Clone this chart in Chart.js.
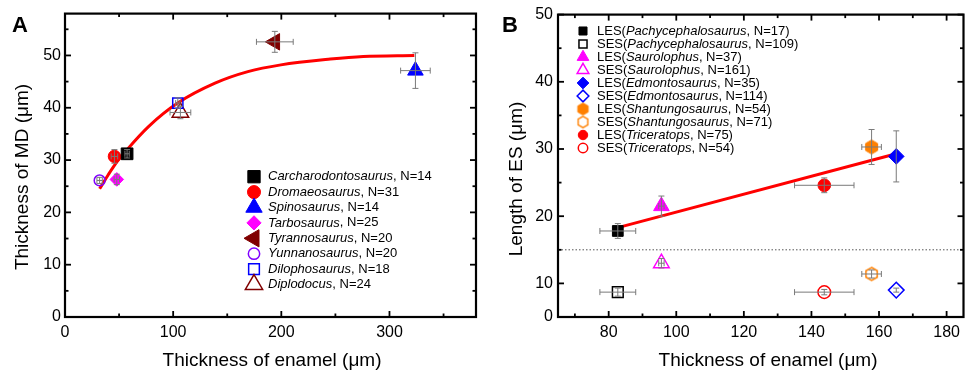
<!DOCTYPE html>
<html><head><meta charset="utf-8">
<script src="https://cdn.jsdelivr.net/npm/chart.js@4.4.1/dist/chart.umd.min.js"></script>
<style>
html,body{margin:0;padding:0;background:#fff;width:974px;height:372px;overflow:hidden}
#wa{position:absolute;left:0;top:0;width:487px;height:372px}
#wb{position:absolute;left:487px;top:0;width:487px;height:372px}
canvas{display:block}
</style></head><body>
<div id="wa"><canvas id="ca" width="487" height="372"></canvas></div>
<div id="wb"><canvas id="cb" width="487" height="372"></canvas></div>
<script>
// ================= Panel A data =================
const genusA     = ['Carcharodontosaurus','Dromaeosaurus','Spinosaurus','Tarbosaurus','Tyrannosaurus','Yunnanosaurus','Dilophosaurus','Diplodocus'];
const nA         = [14, 31, 14, 25, 20, 20, 18, 24];
const enamelA    = [57.4, 45.7, 324.0, 47.9, 194.0, 32.0, 104.3, 106.7];
const enamelErrA = [2.0, 3.0, 13.7, 2.5, 17.0, 2.5, 2.0, 9.6];
const mdA        = [31.2, 30.7, 47.1, 26.3, 52.6, 26.1, 40.9, 39.1];
const mdErrA     = [0.8, 1.3, 3.4, 1.0, 2.0, 0.6, 1.0, 1.2];
const fitEnamelA = [32, 40, 45.7, 57.4, 77.7, 104.2, 138.7, 169.1, 199.6, 245.3, 275.8, 323];
const fitMdA     = [24.5, 27.2, 29.0, 32.0, 36.5, 40.9, 44.7, 46.9, 48.2, 49.3, 49.8, 50.0];
const xTicksA = [0, 100, 200, 300];
const xMinorA = [50, 150, 250, 350];
const yTicksA = [0, 10, 20, 30, 40, 50];
const yMinorA = [5, 15, 25, 35, 45, 55];

// ================= Panel B data =================
const typeB      = ['LES','SES','LES','SES','LES','SES','LES','SES','LES','SES'];
const genusB     = ['Pachycephalosaurus','Pachycephalosaurus','Saurolophus','Saurolophus','Edmontosaurus','Edmontosaurus','Shantungosaurus','Shantungosaurus','Triceratops','Triceratops'];
const nB         = [17, 109, 37, 161, 35, 114, 54, 71, 75, 54];
const enamelB    = [82.7, 82.7, 95.6, 95.6, 165.1, 165.1, 157.8, 157.8, 143.8, 143.8];
const enamelErrB = [5.3, 5.3, 0.8, 0.8, 0, 0, 2.9, 2.9, 8.8, 8.8];
const esB        = [17.8, 8.7, 21.5, 13.0, 28.9, 9.0, 30.3, 11.4, 24.6, 8.7];
const esErrB     = [1.1, 0.6, 1.5, 0.7, 3.8, 0.3, 2.6, 0.6, 1.1, 0.4];
const fitEnamelB = [82.7, 165.1];
const fitEsB     = [18.3, 29.3];
const thresholdB = 15;
const xTicksB = [80, 100, 120, 140, 160, 180];
const xMinorB = [70, 90, 110, 130, 150, 170];
const yTicksB = [5, 10, 20, 30, 40, 50];
const yTickLabelsB = ['0', '10', '20', '30', '40', '50'];
const yMinorB = [15, 25, 35, 45];

// ================= styles =================
const FONT = '"Liberation Sans", Arial, Helvetica, sans-serif';

function hexCanvas(fill, stroke, size, r, lw) {
  const c = document.createElement('canvas');
  c.width = size; c.height = size;
  const g = c.getContext('2d');
  g.beginPath();
  for (let k = 0; k < 6; k++) {
    const a = -Math.PI / 2 + k * Math.PI / 3;
    const px = size / 2 + r * Math.cos(a), py = size / 2 + r * Math.sin(a);
    if (k) g.lineTo(px, py); else g.moveTo(px, py);
  }
  g.closePath();
  if (fill) { g.fillStyle = fill; g.fill(); }
  g.lineWidth = lw; g.strokeStyle = stroke; g.stroke();
  return c;
}

const stylesA = [
  {ps:'rect',     r:8.3, color:'#000000', fill:true},
  {ps:'circle',   r:6.2, color:'#ff0000', fill:true},
  {ps:'triangle', r:9,   color:'#0000ff', fill:true},
  {ps:'rectRot',  r:6.8, color:'#ff00ff', fill:true},
  {ps:'triangle', r:9.5, color:'#800000', fill:true, rot:-90},
  {ps:'circle',   r:5.4, color:'#8000ff', fill:false},
  {ps:'rect',     r:7.2, color:'#0000ff', fill:false},
  {ps:'triangle', r:9.5, color:'#800000', fill:false}
];
const hexFill = hexCanvas('#ff8000', '#ff8000', 17, 7, 1);
const hexOpen = hexCanvas(null, '#ff8000', 17, 6.5, 1.5);
const hexFillL = hexCanvas('#ff8000', '#ff8000', 15, 6, 1);
const hexOpenL = hexCanvas(null, '#ff8000', 15, 5.6, 1.4);
const stylesB = [
  {ps:'rect',     r:7.6, color:'#000000', fill:true},
  {ps:'rect',     r:7.6, color:'#000000', fill:false},
  {ps:'triangle', r:9,   color:'#ff00ff', fill:true},
  {ps:'triangle', r:9,   color:'#ff00ff', fill:false},
  {ps:'rectRot',  r:7.8, color:'#0000ff', fill:true},
  {ps:'rectRot',  r:7.8, color:'#0000ff', fill:false},
  {ps:hexFill,    r:7,   color:'#ff8000', fill:true,  legendImg:hexFillL},
  {ps:hexOpen,    r:7,   color:'#ff8000', fill:false, legendImg:hexOpenL},
  {ps:'circle',   r:6.3, color:'#ff0000', fill:true},
  {ps:'circle',   r:6.3, color:'#ff0000', fill:false}
];

function makeDatasets(xs, ys, exs, eys, styles, labels) {
  return xs.map((x, i) => ({
    label: labels[i],
    data: [{x: x, y: ys[i]}],
    errX: [exs[i]], errY: [eys[i]],
    showLine: false,
    pointStyle: styles[i].ps,
    pointRotation: styles[i].rot || 0,
    pointRadius: styles[i].r,
    pointHoverRadius: styles[i].r,
    pointBackgroundColor: styles[i].fill ? styles[i].color : 'rgba(0,0,0,0)',
    pointBorderColor: styles[i].color,
    pointBorderWidth: styles[i].fill ? 1 : 1.5
  }));
}

// ================= plugins =================
function markerPath(ctx, st, x, y, r) {
  const rot = (st.rot || 0) * Math.PI / 180;
  ctx.beginPath();
  if (st.ps === 'circle') ctx.arc(x, y, r, 0, Math.PI * 2);
  else if (st.ps === 'rect') { const s = r * Math.SQRT1_2; ctx.rect(x - s, y - s, 2 * s, 2 * s); }
  else if (st.ps === 'rectRot') { ctx.moveTo(x - r, y); ctx.lineTo(x, y - r); ctx.lineTo(x + r, y); ctx.lineTo(x, y + r); ctx.closePath(); }
  else if (st.ps === 'triangle') {
    let a = rot;
    ctx.moveTo(x + Math.sin(a) * r, y - Math.cos(a) * r);
    a += 2 * Math.PI / 3; ctx.lineTo(x + Math.sin(a) * r, y - Math.cos(a) * r);
    a += 2 * Math.PI / 3; ctx.lineTo(x + Math.sin(a) * r, y - Math.cos(a) * r);
    ctx.closePath();
  }
}

function legendPlugin(cfg) {
  return {
    id: 'richLegend',
    afterDraw(chart) {
      const ctx = chart.ctx;
      ctx.save();
      cfg.items.forEach((it, i) => {
        const y = cfg.y + i * cfg.dy;
        const st = it.style;
        if (st.legendImg) {
          ctx.drawImage(st.legendImg, cfg.symX - st.legendImg.width / 2, y - st.legendImg.height / 2);
        } else {
          markerPath(ctx, st, cfg.symX, y, st.r * cfg.symScale);
          if (st.fill) { ctx.fillStyle = st.color; ctx.fill(); }
          ctx.lineWidth = st.fill ? 1 : 1.5; ctx.strokeStyle = st.color; ctx.stroke();
        }
        let x = cfg.textX;
        ctx.fillStyle = '#000';
        ctx.textBaseline = 'middle';
        ctx.textAlign = 'left';
        it.parts.forEach(p => {
          ctx.font = (p[1] ? 'italic ' : '') + cfg.fontSize + 'px ' + FONT;
          ctx.fillText(p[0], x, y);
          x += ctx.measureText(p[0]).width;
        });
      });
      ctx.restore();
    }
  };
}

function errorBarPlugin(color, cap) {
  return {
    id: 'errorBars',
    afterDatasetsDraw(chart) {
      const {ctx, scales: {x, y}} = chart;
      ctx.save();
      ctx.strokeStyle = color; ctx.lineWidth = 1;
      const ln = (x1, y1, x2, y2) => { ctx.beginPath(); ctx.moveTo(x1, y1); ctx.lineTo(x2, y2); ctx.stroke(); };
      chart.data.datasets.forEach(ds => {
        if (!ds.errX) return;
        ds.data.forEach((p, i) => {
          const px = x.getPixelForValue(p.x), py = y.getPixelForValue(p.y);
          const ex = ds.errX[i], ey = ds.errY[i];
          if (ex) {
            const x1 = x.getPixelForValue(p.x - ex), x2 = x.getPixelForValue(p.x + ex);
            ln(x1, py, x2, py); ln(x1, py - cap, x1, py + cap); ln(x2, py - cap, x2, py + cap);
          }
          if (ey) {
            const y1 = y.getPixelForValue(p.y - ey), y2 = y.getPixelForValue(p.y + ey);
            ln(px, y1, px, y2); ln(px - cap, y1, px + cap, y1); ln(px - cap, y2, px + cap, y2);
          }
        });
      });
      ctx.restore();
    }
  };
}

function framePlugin(cfg) {
  return {
    id: 'frameTicks',
    beforeDatasetsDraw(chart) {
      if (cfg.hline === undefined) return;
      const {ctx, chartArea: a, scales: {y}} = chart;
      const py = y.getPixelForValue(cfg.hline);
      ctx.save();
      ctx.strokeStyle = '#555'; ctx.lineWidth = 1; ctx.setLineDash([1.5, 2]);
      ctx.beginPath(); ctx.moveTo(a.left, py); ctx.lineTo(a.right, py); ctx.stroke();
      ctx.restore();
    },
    afterDraw(chart) {
      const {ctx, chartArea: a, scales: {x, y}} = chart;
      ctx.save();
      ctx.strokeStyle = '#000';
      ctx.lineWidth = 1.8;
      const ln = (x1, y1, x2, y2) => { ctx.beginPath(); ctx.moveTo(x1, y1); ctx.lineTo(x2, y2); ctx.stroke(); };
      const xt = (vals, len) => vals.forEach(v => { const p = x.getPixelForValue(v); ln(p, a.bottom, p, a.bottom - len); ln(p, a.top, p, a.top + len); });
      const yt = (vals, len) => vals.forEach(v => { const p = y.getPixelForValue(v); ln(a.left, p, a.left + len, p); ln(a.right, p, a.right - len, p); });
      xt(cfg.xMajor, 6); xt(cfg.xMinor, 3.5); yt(cfg.yMajor, 6); yt(cfg.yMinor, 3.5);
      ctx.lineWidth = 2.2;
      ctx.strokeRect(a.left, a.top, a.right - a.left, a.bottom - a.top);
      // axis titles
      ctx.fillStyle = '#000';
      ctx.font = cfg.titleSize + 'px ' + FONT;
      ctx.textAlign = 'center'; ctx.textBaseline = 'middle';
      ctx.fillText(cfg.xTitle, cfg.xTitlePos[0], cfg.xTitlePos[1]);
      ctx.save();
      ctx.translate(cfg.yTitlePos[0], cfg.yTitlePos[1]);
      ctx.rotate(-Math.PI / 2);
      ctx.fillText(cfg.yTitle, 0, 0);
      ctx.restore();
      // panel letter
      ctx.font = 'bold 22px ' + FONT;
      ctx.textAlign = 'left'; ctx.textBaseline = 'alphabetic';
      ctx.fillText(cfg.panel, cfg.panelPos[0], cfg.panelPos[1]);
      ctx.restore();
    }
  };
}

function axisCfg(min, max, tickVals, labelFn, size, isX, pad) {
  return {
    type: 'linear', min: min, max: max,
    afterBuildTicks: s => { s.ticks = tickVals.map(v => ({value: v})); },
    afterFit: s => { if (isX) s.height = size; else s.width = size; },
    grid: {display: false, drawTicks: false},
    border: {display: false},
    ticks: {color: '#000', font: {family: FONT, size: 16}, padding: pad, maxRotation: 0, autoSkip: false,
      callback: labelFn}
  };
}

// ================= Chart A =================
const dsA = makeDatasets(enamelA, mdA, enamelErrA, mdErrA, stylesA, genusA);
dsA.push({
  label: 'fit', data: fitEnamelA.map((x, i) => ({x: x, y: fitMdA[i]})),
  showLine: true, borderColor: '#ff0000', borderWidth: 3, pointRadius: 0, pointHoverRadius: 0,
  cubicInterpolationMode: 'monotone', fill: false
});
new Chart(document.getElementById('ca'), {
  type: 'scatter',
  data: {datasets: dsA},
  options: {
    responsive: false, animation: false, events: [],
    layout: {padding: {top: 13, right: 7, left: 0, bottom: 0}},
    plugins: {legend: {display: false}, tooltip: {enabled: false}},
    scales: {
      x: axisCfg(0, 380, xTicksA, v => String(v), 55, true, 6),
      y: axisCfg(0, 58, yTicksA, v => String(v), 65, false, 4)
    }
  },
  plugins: [
    errorBarPlugin('#7a7a7a', 3),
    framePlugin({xMajor: xTicksA, xMinor: xMinorA, yMajor: yTicksA, yMinor: yMinorA,
      xTitle: 'Thickness of enamel (\u03bcm)', yTitle: 'Thickness of MD (\u03bcm)', titleSize: 19,
      xTitlePos: [272, 361], yTitlePos: [23, 177], panel: 'A', panelPos: [12, 32]}),
    legendPlugin({x: 0, y: 176.7, dy: 15.4, symX: 254, textX: 268, fontSize: 13, symScale: 1.05,
      items: genusA.map((g, i) => ({style: stylesA[i], parts: [[g, true], [', N=' + nA[i], false]]}))})
  ]
});

// ================= Chart B =================
const labelsB = typeB.map((t, i) => t + '(' + genusB[i] + ', N=' + nB[i] + ')');
const dsB = makeDatasets(enamelB, esB, enamelErrB, esErrB, stylesB, labelsB);
dsB.push({
  label: 'fit', data: fitEnamelB.map((x, i) => ({x: x, y: fitEsB[i]})),
  showLine: true, borderColor: '#ff0000', borderWidth: 3, pointRadius: 0, pointHoverRadius: 0, fill: false
});
new Chart(document.getElementById('cb'), {
  type: 'scatter',
  data: {datasets: dsB},
  options: {
    responsive: false, animation: false, events: [],
    layout: {padding: {top: 14, right: 5, left: 0, bottom: 0}},
    plugins: {legend: {display: false}, tooltip: {enabled: false}},
    scales: {
      x: axisCfg(65, 185, xTicksB, v => String(v), 55, true, 6),
      y: axisCfg(5, 50, yTicksB, v => yTickLabelsB[yTicksB.indexOf(v)], 71, false, 5)
    }
  },
  plugins: [
    errorBarPlugin('#7a7a7a', 3),
    framePlugin({xMajor: xTicksB, xMinor: xMinorB, yMajor: yTicksB.slice(1), yMinor: yMinorB,
      xTitle: 'Thickness of enamel (\u03bcm)', yTitle: 'Length of ES (\u03bcm)', titleSize: 19,
      xTitlePos: [281, 361], yTitlePos: [30, 179], panel: 'B', panelPos: [15, 32], hline: thresholdB}),
    legendPlugin({x: 0, y: 31, dy: 13, symX: 96, textX: 110, fontSize: 13, symScale: 0.75,
      items: genusB.map((g, i) => ({style: stylesB[i], parts: [[typeB[i] + '(', false], [g, true], [', N=' + nB[i] + ')', false]]}))})
  ]
});
</script>
</body></html>
